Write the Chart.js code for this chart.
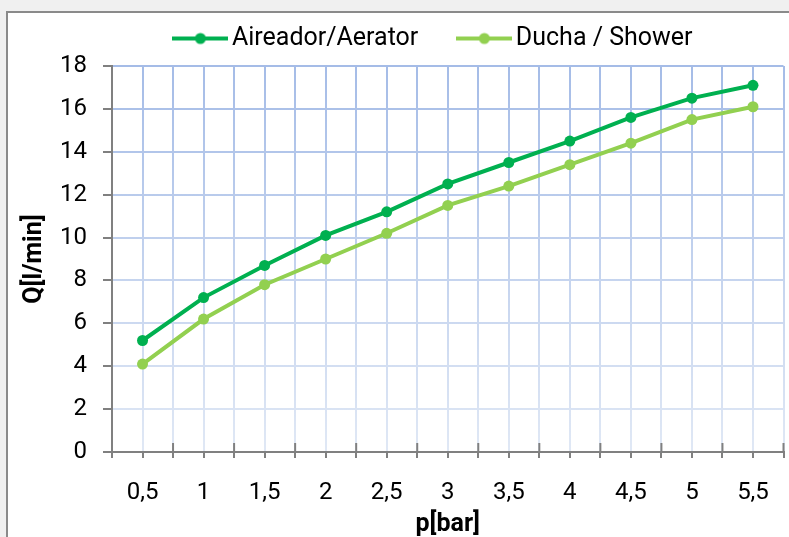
<!DOCTYPE html>
<html>
<head>
<meta charset="utf-8">
<script src="https://cdn.jsdelivr.net/npm/chart.js@4/dist/chart.umd.min.js"></script>
<style>
  body { margin: 0; background: #f0f0f0; overflow: hidden; }
  #frame {
    position: absolute; left: 6px; top: 11px; width: 781px; height: 524px;
    border-top: 2px solid #8a8a8a; border-left: 2px solid #8a8a8a; background: #fff;
  }
</style>
</head>
<body>
<div id="frame"><canvas id="chart" width="781" height="524"></canvas></div>
<script>
// --- Data ---
const pressure = [0.5, 1, 1.5, 2, 2.5, 3, 3.5, 4, 4.5, 5, 5.5];
const xTickLabels = ['0,5', '1', '1,5', '2', '2,5', '3', '3,5', '4', '4,5', '5', '5,5'];
const aerator = [5.2, 7.2, 8.7, 10.1, 11.2, 12.5, 13.5, 14.5, 15.6, 16.5, 17.1];
const shower = [4.1, 6.2, 7.8, 9.0, 10.2, 11.5, 12.4, 13.4, 14.4, 15.5, 16.1];
const yTicks = [0, 2, 4, 6, 8, 10, 12, 14, 16, 18];
const seriesNames = ['Aireador/Aerator', 'Ducha / Shower'];
const seriesColors = ['#00b050', '#92d050'];

const axisGray = '#808080';
const FONT = 'Roboto';

// legend marker: short line with a dot in the middle
function legendMarker(color) {
    const c = document.createElement('canvas');
    c.width = 56; c.height = 14;
    const g = c.getContext('2d');
    g.strokeStyle = color; g.lineWidth = 4;
    g.beginPath(); g.moveTo(0, 7); g.lineTo(56, 7); g.stroke();
    g.fillStyle = color;
    g.beginPath(); g.arc(28, 7, 5.5, 0, Math.PI * 2); g.fill();
    return c;
}

// gridlines fade from darker blue at top to pale blue at bottom
function gridColor(ctx) {
    if (ctx.tick && ctx.tick.value === (ctx.scale.axis === 'x' ? 0.25 : 0)) return 'rgba(0,0,0,0)';
    const area = ctx.chart.chartArea;
    if (!area) return '#c0d0ee';
    const g = ctx.chart.ctx.createLinearGradient(0, area.top, 0, area.bottom);
    g.addColorStop(0, '#a5bce7');
    g.addColorStop(1, '#e0e8f5');
    return g;
}

function makeSeries(label, values, color) {
    return {
        label: label,
        data: values.map((v, i) => ({ x: pressure[i], y: v })),
        borderColor: color,
        backgroundColor: color,
        borderWidth: 4,
        pointRadius: 5.5,
        pointHoverRadius: 5.5,
        pointBorderWidth: 0,
        tension: 0,
        pointStyle: 'circle'
    };
}

// legend position tweak + fixed height
const legendTweak = {
    id: 'legendTweak',
    beforeInit(chart) {
        const fit = chart.legend.fit;
        chart.legend.fit = function () {
            fit.call(this);
            this.height = 53;
        };
    },
    afterLayout(chart) {
        const lg = chart.legend;
        lg.top = -34; lg.bottom = 53;
        lg.left += 41; lg.right += 41;
    }
};

// long tick marks between categories crossing the x axis
const boundaryTicks = {
    id: 'boundaryTicks',
    beforeDatasetsDraw(chart) {
        const x = chart.scales.x, c = chart.ctx;
        c.save();
        c.strokeStyle = axisGray; c.lineWidth = 2;
        x.ticks.forEach(t => {
            if (pressure.includes(t.value)) return;
            const px = x.getPixelForValue(t.value);
            c.beginPath(); c.moveTo(px, x.top - 9); c.lineTo(px, x.top); c.stroke();
        });
        c.restore();
    }
};

new Chart(document.getElementById('chart'), {
    type: 'line',
    data: {
        datasets: [
            makeSeries(seriesNames[0], aerator, seriesColors[0]),
            makeSeries(seriesNames[1], shower, seriesColors[1])
        ]
    },
    options: {
        responsive: false,
        animation: false,
        layout: { padding: { left: 0, right: 5, top: 0, bottom: 0 } },
        plugins: {
            tooltip: { enabled: false },
            legend: {
                position: 'top',
                labels: {
                    usePointStyle: true,
                    pointStyleWidth: 38,
                    padding: 47,
                    color: '#000',
                    font: { family: FONT, size: 25 },
                    generateLabels(chart) {
                        return chart.data.datasets.map((ds, i) => ({
                            text: ds.label,
                            pointStyle: legendMarker(seriesColors[i]),
                            fillStyle: seriesColors[i],
                            strokeStyle: seriesColors[i],
                            lineWidth: 0,
                            datasetIndex: i,
                            fontColor: '#000'
                        }));
                    }
                }
            }
        },
        scales: {
            x: {
                type: 'linear',
                min: 0.25,
                max: 5.75,
                afterFit(scale) {
                    scale.height = 85;
                    scale.paddingLeft = 0; scale.paddingRight = 0;
                },
                afterBuildTicks(scale) {
                    const t = [];
                    for (let i = 0; i <= pressure.length; i++) {
                        t.push({ value: pressure[0] - 0.25 + i * 0.5 });
                        if (i < pressure.length) t.push({ value: pressure[i] });
                    }
                    scale.ticks = t;
                },
                ticks: {
                    autoSkip: false,
                    maxRotation: 0,
                    padding: 21,
                    color: '#000',
                    font: { family: FONT, size: 24 },
                    callback(v) {
                        const i = pressure.indexOf(v);
                        return i >= 0 ? xTickLabels[i] : '';
                    }
                },
                grid: {
                    color: gridColor,
                    lineWidth: 2,
                    tickLength: 6,
                    tickColor: axisGray,
                    tickWidth: 2
                },
                border: { color: axisGray, width: 2 },
                title: {
                    display: true,
                    text: 'p[bar]',
                    color: '#000',
                    font: { family: FONT, size: 25, weight: 'bold', lineHeight: 1 },
                    padding: { top: 0, bottom: 0 }
                }
            },
            y: {
                min: yTicks[0],
                max: yTicks[yTicks.length - 1],
                afterFit(scale) { scale.width = 104; },
                afterBuildTicks(scale) { scale.ticks = yTicks.map(v => ({ value: v })); },
                ticks: {
                    padding: 16,
                    color: '#000',
                    font: { family: FONT, size: 24 }
                },
                grid: {
                    color: gridColor,
                    lineWidth: 2,
                    tickLength: 9,
                    tickColor: axisGray,
                    tickWidth: 2
                },
                border: { color: axisGray, width: 2 },
                title: {
                    display: true,
                    text: 'Q[l/min]',
                    color: '#000',
                    font: { family: FONT, size: 25, weight: 'bold', lineHeight: 1.2 },
                    padding: { top: 12, bottom: 0 }
                }
            }
        }
    },
    plugins: [legendTweak, boundaryTicks]
});
</script>
</body>
</html>
